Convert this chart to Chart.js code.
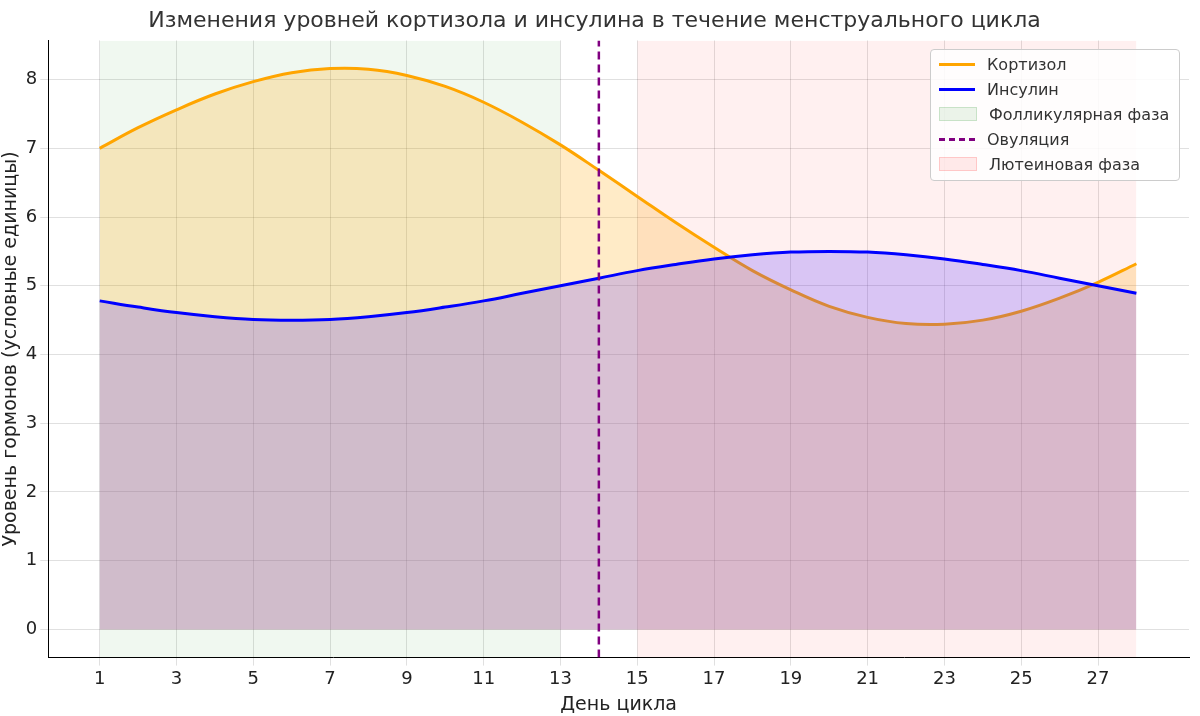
<!DOCTYPE html>
<html><head><meta charset="utf-8">
<script src="https://cdn.jsdelivr.net/npm/chart.js@4"></script>
<style>body{margin:0;background:#fff;font-family:"DejaVu Sans"}#w{position:relative;width:1200px;height:716px}
#lg{position:absolute;left:930px;top:49px;width:248px;height:130px;border:1px solid #ccc;border-radius:4px;background:rgba(255,255,255,0.85);font:16px "DejaVu Sans";color:#333}
.it{position:absolute;left:8px;height:20px;display:flex;align-items:center}
.sw{width:36px;margin-right:12px}</style></head><body>
<div id="w"><canvas id="c" width="1200" height="716"></canvas><div id="lg"></div></div>
<script>
const days=[1,2,3,4,5,6,7,8,9,10,11,12,13,14,15,16,17,18,19,20,21,22,23,24,25,26,27,28];
const cortisol=[7.0,7.3,7.56,7.79,7.97,8.1,8.16,8.15,8.06,7.9,7.67,7.38,7.05,6.68,6.3,5.92,5.56,5.22,4.94,4.7,4.54,4.45,4.44,4.5,4.63,4.82,5.05,5.32];
const insulin=[4.78,4.69,4.61,4.55,4.51,4.5,4.51,4.55,4.61,4.69,4.78,4.89,5.0,5.11,5.22,5.31,5.39,5.45,5.49,5.5,5.49,5.45,5.39,5.31,5.22,5.11,5.0,4.89];
const xTicks=[1,3,5,7,9,11,13,15,17,19,21,23,25,27];
const follicular=[1,13], ovulation=14, luteal=[15,28];
const yMin=-0.41,yMax=8.57;
const labels=['Кортизол','Инсулин','Фолликулярная фаза','Овуляция','Лютеиновая фаза'];
const span=(r)=>[{x:r[0],y:yMax},{x:r[1],y:yMax}];
new Chart(document.getElementById('c'),{type:'line',data:{datasets:[
{label:labels[0],data:days.map((d,i)=>({x:d,y:cortisol[i]})),borderColor:'#ffa500',borderWidth:3,pointRadius:0,tension:0.4,fill:'origin',backgroundColor:'rgba(255,165,0,0.22)',order:1},
{label:labels[1],data:days.map((d,i)=>({x:d,y:insulin[i]})),borderColor:'#0000ff',borderWidth:3,pointRadius:0,tension:0.4,fill:'origin',backgroundColor:'rgba(80,40,255,0.22)',order:0},
{label:labels[2],data:span(follicular),borderWidth:0,pointRadius:0,fill:{value:yMin},backgroundColor:'rgba(0,128,0,0.06)',order:5},
{label:labels[3],data:[{x:ovulation,y:yMin},{x:ovulation,y:yMax}],borderColor:'#800080',borderWidth:2.5,borderDash:[8,5],pointRadius:0,fill:false,order:-1},
{label:labels[4],data:span(luteal),borderWidth:0,pointRadius:0,fill:{value:yMin},backgroundColor:'rgba(255,0,0,0.06)',order:5}
]},options:{responsive:false,animation:false,layout:{padding:{right:11,top:0}},
plugins:{legend:{display:false},title:{display:true,text:'Изменения уровней кортизола и инсулина в течение менструального цикла',font:{size:22,family:'DejaVu Sans',weight:'normal'},color:'#333',padding:{top:8,bottom:6}}},
scales:{x:{type:'linear',min:-0.34,max:29.37,afterBuildTicks:a=>{a.ticks=xTicks.map(v=>({value:v}))},grid:{color:'rgba(0,0,0,0.12)',borderDash:[4,4]},border:{color:'#000'},ticks:{font:{size:18,family:'DejaVu Sans'},color:'#222'},title:{display:true,text:'День цикла',font:{size:19,family:'DejaVu Sans'},color:'#222',padding:0}},
y:{min:yMin,max:yMax,afterBuildTicks:a=>{a.ticks=[0,1,2,3,4,5,6,7,8].map(v=>({value:v}))},grid:{color:'rgba(0,0,0,0.12)'},border:{color:'#000'},ticks:{font:{size:18,family:'DejaVu Sans'},color:'#222'},title:{display:true,text:'Уровень гормонов (условные единицы)',font:{size:19,family:'DejaVu Sans'},color:'#222',padding:0}}}}});
const sw=['<div class="sw" style="border-top:3px solid #ffa500"></div>','<div class="sw" style="border-top:3px solid #0000ff"></div>','<div class="sw" style="height:12px;background:rgba(0,128,0,0.08);border:1px solid rgba(0,128,0,0.15)"></div>','<div class="sw" style="border-top:3px dashed #800080"></div>','<div class="sw" style="height:12px;background:rgba(255,0,0,0.08);border:1px solid rgba(255,0,0,0.15)"></div>'];
document.getElementById('lg').innerHTML=labels.map((l,i)=>`<div class="it" style="top:${4+i*25}px">${sw[i]}${l}</div>`).join('');
</script></body></html>
